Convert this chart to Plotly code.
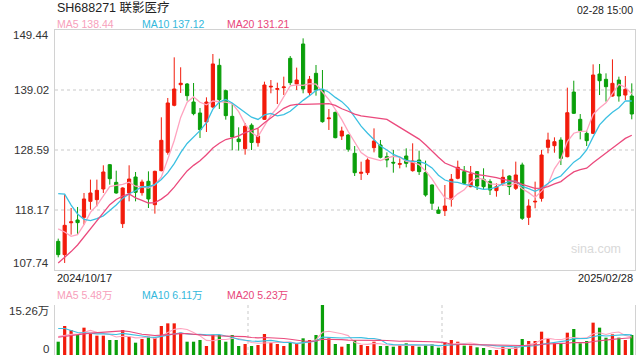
import plotly.graph_objects as go
import numpy as np

# ---------------- data ----------------
opens = [112.72, 110.41, 115.95, 116.43, 116.89, 119.67, 119.96, 121.82, 126.04, 122.97,
         115.79, 121.12, 123.90, 121.18, 123.15, 119.09, 125.00, 128.19, 136.35, 139.94,
         140.06, 136.93, 135.02, 133.46, 136.06, 143.30, 138.90, 134.44, 130.50, 128.82,
         132.90, 129.86, 133.92, 139.54, 139.13, 139.42, 144.52, 140.06, 147.01, 138.55,
         141.91, 139.01, 134.03, 135.13, 131.02, 131.20, 128.01, 124.54, 124.65, 128.99,
         129.46, 127.43, 126.45, 126.10, 127.55, 125.00, 126.85, 124.65, 122.51, 118.17,
         118.05, 120.02, 123.67, 124.83, 122.22, 124.83, 123.50, 123.09, 121.53, 122.80,
         124.07, 121.93, 125.99, 116.89, 119.56, 120.19, 129.05, 129.34, 130.32, 127.43,
         138.66, 133.92, 131.48, 131.48, 141.79, 140.87, 137.97, 140.75, 138.14, 137.97]
highs = [113.19, 120.83, 118.51, 118.69, 121.12, 123.44, 123.44, 125.93, 126.16, 125.00,
         122.11, 125.93, 124.77, 123.44, 124.88, 125.00, 134.27, 137.63, 144.69, 142.96,
         140.23, 140.23, 135.89, 137.74, 145.27, 144.46, 139.08, 136.76, 132.53, 133.28,
         133.22, 132.30, 140.46, 140.75, 140.29, 141.33, 144.92, 142.90, 147.99, 141.45,
         143.36, 142.49, 135.71, 135.25, 132.64, 131.31, 129.28, 126.56, 127.14, 132.35,
         130.33, 128.18, 128.59, 127.14, 128.88, 129.75, 128.47, 126.74, 122.63, 118.75,
         122.51, 124.42, 126.74, 125.81, 125.81, 124.94, 125.41, 123.50, 122.80, 125.23,
         124.19, 126.57, 126.39, 120.02, 123.09, 128.59, 131.60, 130.79, 130.79, 139.42,
         140.63, 134.84, 131.95, 143.47, 143.53, 141.91, 144.34, 141.33, 141.45, 140.17]
lows = [109.94, 108.96, 113.88, 113.88, 115.62, 118.23, 118.80, 121.12, 122.57, 121.00,
        115.04, 119.67, 119.67, 120.66, 118.51, 117.53, 124.88, 127.78, 136.18, 138.50,
        137.16, 134.62, 130.68, 131.72, 135.89, 135.72, 133.86, 128.54, 128.48, 127.78,
        128.59, 129.17, 133.80, 138.44, 136.58, 138.15, 139.88, 139.01, 138.44, 137.97,
        138.03, 133.34, 132.07, 130.62, 130.33, 128.30, 124.07, 123.38, 124.25, 128.18,
        127.14, 125.58, 124.65, 125.40, 125.58, 124.83, 124.25, 120.48, 118.17, 117.47,
        117.12, 118.75, 123.50, 122.51, 122.11, 121.64, 121.76, 120.77, 120.48, 122.34,
        120.77, 121.64, 116.43, 115.56, 118.46, 119.62, 128.01, 128.12, 125.98, 127.31,
        134.84, 130.44, 129.28, 131.37, 138.14, 136.99, 137.86, 136.99, 137.27, 133.92]
closes = [110.41, 115.50, 116.10, 115.97, 120.08, 121.12, 121.58, 124.77, 123.61, 121.12,
          121.99, 123.55, 121.24, 123.03, 120.08, 124.88, 130.27, 136.76, 139.19, 140.18,
          138.03, 134.91, 132.13, 136.93, 143.54, 137.34, 134.56, 130.85, 130.04, 132.70,
          129.90, 131.02, 139.88, 139.65, 139.25, 139.54, 140.29, 140.75, 139.19, 140.87,
          139.01, 133.51, 134.15, 130.73, 131.89, 128.71, 124.65, 124.71, 126.85, 130.15,
          127.32, 126.85, 126.33, 126.22, 126.27, 126.68, 124.83, 120.77, 119.33, 117.59,
          118.86, 123.50, 125.58, 122.80, 124.42, 122.34, 122.22, 121.64, 122.22, 123.84,
          122.22, 124.25, 116.72, 118.86, 119.67, 127.72, 130.32, 130.03, 127.14, 135.07,
          134.96, 131.95, 130.21, 141.62, 140.63, 139.59, 140.17, 137.97, 139.13, 134.84]
# closes of the 19 sessions before the first visible candle (needed for the moving averages)
prior_closes = [96, 96, 93, 92, 94, 93, 94, 98, 103, 110,
                116.5, 135, 131.5, 129.3, 123.5, 118.15, 119.8, 114.5, 111.5]

# volume, unit: 万
volumes = [4.06, 8.85, 7.63, 6.10, 8.34, 6.61, 5.90, 5.90, 4.58, 4.58,
           7.63, 5.60, 3.76, 4.88, 5.60, 5.39, 8.85, 9.66, 9.66, 6.81,
           4.06, 4.06, 4.58, 2.75, 6.20, 6.10, 4.06, 6.10, 2.75, 3.36,
           2.75, 3.05, 6.41, 3.76, 3.36, 2.75, 3.76, 3.56, 5.09, 4.58,
           6.10, 15.26, 5.09, 3.36, 2.54, 3.36, 4.58, 3.05, 2.75, 4.06,
           2.75, 2.75, 2.54, 3.05, 3.56, 2.75, 2.54, 3.05, 3.25, 2.24,
           3.87, 4.58, 4.06, 2.85, 2.85, 2.34, 2.14, 1.53, 1.53, 2.54,
           2.04, 2.54, 4.88, 4.27, 4.27, 7.12, 4.88, 3.56, 3.56, 6.81,
           7.94, 3.56, 4.27, 9.87, 8.34, 5.29, 6.31, 5.29, 4.58, 6.10]
prior_volumes = [2.5, 2.3, 2.6, 2.4, 2.2, 2.6, 2.8, 3.0, 3.2, 3.4,
                 9, 14, 12, 9, 9, 7, 6, 6, 5]

title_text = "SH688271 联影医疗"
time_text = "02-28 15:00"
start_label = "2024/10/17"
end_label = "2025/02/28"
price_ticks = [149.44, 139.02, 128.59, 118.17, 107.74]
volume_ticks = ["15.26万", "0"]
volume_max = 15.26
ma_periods = [5, 10, 20]
price_ma_labels = ["MA5 138.44", "MA10 137.12", "MA20 131.21"]
volume_ma_labels = ["MA5 5.48万", "MA10 6.11万", "MA20 5.23万"]
watermark = "sina.com"

# ---------------- style ----------------
UP = "#F21B0B"
DOWN = "#0A9F0A"
MA_COLORS = ["#FFA3BF", "#3CC0E2", "#EB4A7D"]
MA_TEXT = ["#F7A0BB", "#33B8DC", "#E8467A"]
FONT = "Arial, 'Liberation Sans', 'Noto Sans CJK SC', sans-serif"
AXIS_LINE = "#D2D2D2"
GRID = "#E4E4E4"

n = len(closes)
x = np.arange(n)


def moving_average(prior, values, k):
    full = np.array(list(prior) + list(values), dtype=float)
    out = np.convolve(full, np.ones(k) / k, mode="valid")
    return out[-len(values):]


fig = go.Figure()

fig.add_trace(go.Candlestick(
    x=x, open=opens, high=highs, low=lows, close=closes,
    increasing=dict(line=dict(color=UP, width=1), fillcolor=UP),
    decreasing=dict(line=dict(color=DOWN, width=1), fillcolor=DOWN),
    whiskerwidth=0, xaxis="x", yaxis="y", showlegend=False, hoverinfo="skip",
))

for k, col in zip(ma_periods, MA_COLORS):
    fig.add_trace(go.Scatter(
        x=x, y=moving_average(prior_closes, closes, k), mode="lines",
        line=dict(color=col, width=1.3), xaxis="x", yaxis="y",
        showlegend=False, hoverinfo="skip",
    ))

bar_colors = [UP if c >= o else DOWN for o, c in zip(opens, closes)]
fig.add_trace(go.Bar(
    x=x, y=volumes, width=0.5, marker=dict(color=bar_colors, line=dict(width=0)),
    xaxis="x2", yaxis="y2", showlegend=False, hoverinfo="skip",
))
for k, col in zip(ma_periods, MA_COLORS):
    fig.add_trace(go.Scatter(
        x=x, y=moving_average(prior_volumes, volumes, k), mode="lines",
        line=dict(color=col, width=1.1), xaxis="x2", yaxis="y2",
        showlegend=False, hoverinfo="skip",
    ))

H = 360
TOP, MAIN_BOT, VOL_TOP, VOL_BOT = 30, 270, 305, 355
span = VOL_BOT - TOP


def dom(px):
    return (VOL_BOT - px) / span


xr = [-0.5, n - 0.5]
fig.update_layout(
    width=640, height=H,
    margin=dict(l=55, r=5, t=TOP, b=H - VOL_BOT),
    paper_bgcolor="white", plot_bgcolor="white",
    font=dict(family=FONT, color="#333333"),
    xaxis=dict(domain=[0, 1], range=xr, anchor="y", showticklabels=False,
               showgrid=False, zeroline=False, showline=True, mirror=True,
               linecolor=AXIS_LINE, linewidth=1, rangeslider=dict(visible=False),
               fixedrange=True),
    yaxis=dict(domain=[dom(MAIN_BOT), 1], range=[price_ticks[-1], price_ticks[0]],
               tickvals=price_ticks[1:-1], showticklabels=False, ticks="",
               showgrid=True, gridcolor=GRID, griddash="dot", gridwidth=2,
               zeroline=False, showline=True, mirror=True, linecolor=AXIS_LINE,
               linewidth=1),
    xaxis2=dict(domain=[0, 1], range=xr, anchor="y2", showticklabels=False,
                tickvals=[xr[0] + n / 3, xr[0] + 2 * n / 3], ticks="",
                showgrid=True, gridcolor=GRID, griddash="dot", gridwidth=1.5,
                zeroline=False, showline=False),
    yaxis2=dict(domain=[0, dom(VOL_TOP)], range=[0, volume_max],
                tickvals=[0, volume_max], showticklabels=False, ticks="",
                showgrid=True, gridcolor="#D6D6D6", griddash="dot", gridwidth=1.5,
                zeroline=False, showline=True, mirror=True, linecolor=AXIS_LINE,
                linewidth=1),
    bargap=0.5,
)

ann = []
# price tick labels
for i, tv in enumerate(price_ticks):
    shift = 0
    if i == 0:
        shift = -5
    elif i == len(price_ticks) - 1:
        shift = 7
    ann.append(dict(x=0, xref="paper", y=tv, yref="y", text=f"{tv:.2f}",
                    xanchor="right", yanchor="middle", xshift=-4, yshift=shift,
                    showarrow=False, font=dict(size=11.5, color="#333333")))
# volume tick labels
for txt, yv, shift in zip(volume_ticks, [volume_max, 0], [-6, 6]):
    ann.append(dict(x=0, xref="paper", y=yv, yref="y2", text=txt,
                    xanchor="right", yanchor="middle", xshift=-4, yshift=shift,
                    showarrow=False, font=dict(size=11.5, color="#333333")))


def px_y(py):
    return (H - (H - VOL_BOT) - py) / span if False else (VOL_BOT - py) / span


ann.append(dict(x=0, xref="paper", y=px_y(8), yref="paper", text=title_text,
                xanchor="left", yanchor="middle", showarrow=False,
                font=dict(size=12.5, color="#222222")))
ann.append(dict(x=1, xref="paper", y=px_y(10), yref="paper", text=time_text,
                xanchor="right", yanchor="middle", showarrow=False,
                font=dict(size=10.5, color="#222222")))
for txt, xp, col in zip(price_ma_labels, [55, 140, 225], MA_TEXT):
    ann.append(dict(x=(xp - 55) / 580, xref="paper", y=px_y(24), yref="paper",
                    text=txt, xanchor="left", yanchor="middle", showarrow=False,
                    font=dict(size=10.5, color=col)))
ann.append(dict(x=0, xref="paper", y=px_y(278), yref="paper", text=start_label,
                xanchor="left", yanchor="middle", showarrow=False,
                font=dict(size=11, color="#222222")))
ann.append(dict(x=1, xref="paper", y=px_y(278), yref="paper", text=end_label,
                xanchor="right", yanchor="middle", showarrow=False,
                font=dict(size=11, color="#222222")))
for txt, xp, col in zip(volume_ma_labels, [55, 140, 225], MA_TEXT):
    ann.append(dict(x=(xp - 55) / 580, xref="paper", y=px_y(295), yref="paper",
                    text=txt, xanchor="left", yanchor="middle", showarrow=False,
                    font=dict(size=10.5, color=col)))
ann.append(dict(x=1, xref="paper", y=px_y(249), yref="paper", text=watermark,
                xanchor="right", yanchor="middle", xshift=-12, showarrow=False,
                font=dict(size=12.5, color="#D9D9D9")))

fig.update_layout(annotations=ann)
fig.write_html("out.html")
